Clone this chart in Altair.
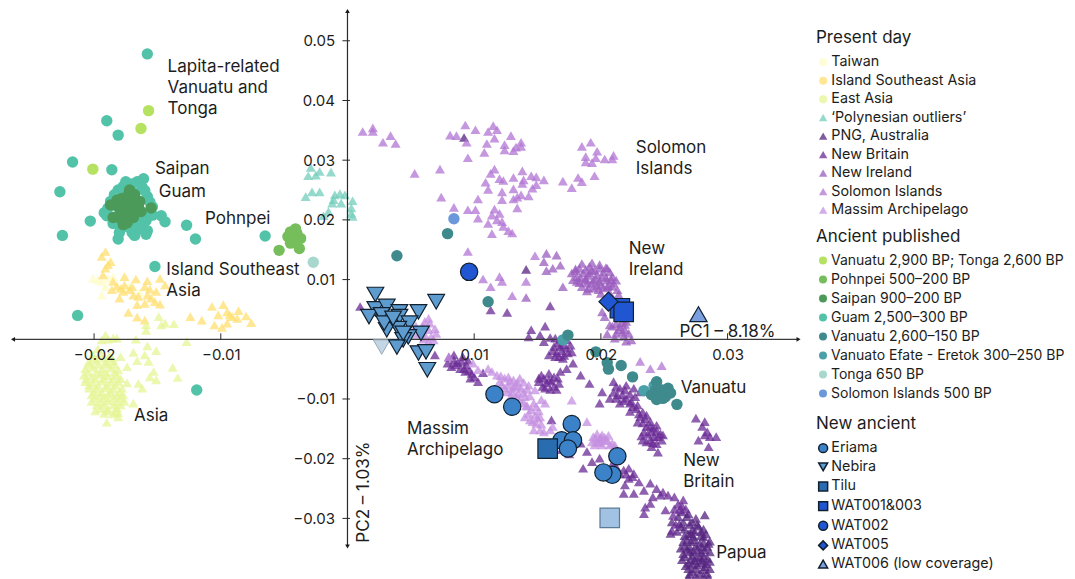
import altair as alt
import pandas as pd

FONT = "Inter"
INK = "#1d1d1b"

# All PCA coordinates are in thousandths of a PC unit: (PC1, PC2)
TAIWAN = [(-20.1,10.2),(-19.4,9.7),(-19.4,7.4),(-19.1,8.8),(-19.7,9.9),(-18.5,10.5),(-18.9,10.2),(-17.2,9.0),(-16.4,7.9)]
ISEA = [(-19.1,14.7),(-19.4,13.9),(-18.7,13.0),(-19.1,11.9),(-18.9,12.5),(-19.3,10.8),(-17.6,10.5),(-16.7,10.1),
        (-15.8,9.8),(-14.8,10.2),(-14.4,9.1),(-18.5,9.7),(-18.6,8.3),(-17.9,8.5),(-17.6,9.1),(-17.2,8.3),(-16.0,8.8),
        (-15.1,8.0),(-15.5,6.9),(-14.8,5.9),(-16.0,6.0),(-16.6,5.8),(-18.0,6.9),(-16.5,7.2),(-17.3,4.5),(-16.6,3.7),
        (-16.0,3.2),(-17.7,8.0),(-16.9,7.4),(-15.8,7.4),(-15.2,6.3),(-10.7,5.5),(-9.8,5.8),(-10.2,4.1),(-9.5,4.6),
        (-9.1,3.8),(-8.6,4.8),(-8.7,3.5),(-8.0,3.9),(-7.6,2.8),(-9.5,2.7),(-10.5,2.4),(-9.9,2.0),(-12.4,3.8),(-11.5,3.2),
        (-9.3,4.1),(-17.0,8.8),(-15.6,8.4),(-18.2,8.9)]
EAST_ASIA = [(-14.9,3.8),(-14.4,2.7),(-13.7,2.6),(-14.7,2.4),(-15.9,2.4),(-15.9,1.5),(-16.7,0.0),(-12.7,-0.4),(-19.1,0.7),
             (-18.5,0.2),(-18.9,0.0),(-19.4,-0.1),(-18.2,0.2),(-15.8,-1.1),(-15.1,-1.9),(-16.9,-2.2),(-16.0,-2.6),(-15.7,-3.7),
             (-16.6,-3.6),(-17.9,-2.9),(-17.4,-4.6),(-13.8,-4.7),(-13.4,-6.4),(-15.6,-6.3),(-15.1,-6.8),(-15.3,-5.4),
             (-17.4,-7.3),(-16.5,-7.4),(-16.2,-8.2),(-16.9,-10.7),(-19.0,-13.9),(-18.1,-13.0),
             (-20.1,-2.6),(-19.5,-2.4),(-18.8,-2.7),(-20.4,-3.7),(-19.8,-3.5),(-19.1,-3.8),(-18.5,-3.6),
             (-20.7,-4.9),(-20.1,-4.7),(-19.4,-5.0),(-18.7,-4.8),(-18.1,-5.1),(-20.8,-6.0),(-20.2,-6.2),(-19.5,-5.9),
             (-18.9,-6.1),(-18.2,-6.0),(-20.7,-7.1),(-20.1,-7.3),(-19.4,-7.0),(-18.7,-7.2),(-18.1,-7.1),(-20.4,-8.2),
             (-19.8,-8.3),(-19.1,-8.1),(-18.5,-8.3),(-17.8,-8.2),(-20.2,-9.3),(-19.5,-9.4),(-18.9,-9.2),(-18.2,-9.4),
             (-17.7,-9.3),(-20.2,-10.4),(-19.5,-10.5),(-18.9,-10.3),(-18.2,-10.5),(-17.6,-10.4),(-19.5,-11.6),
             (-18.9,-11.7),(-18.2,-11.5),(-19.2,-12.4),(-18.5,-12.5),(-18.1,-12.3),(-19.7,-1.6),(-19.9,-12.0),
             (-20.0,-3.1),(-19.2,-3.1),(-18.6,-3.1),(-20.4,-4.2),(-19.7,-4.2),(-19.0,-4.2),(-18.4,-4.2),(-20.5,-5.5),(-19.8,-5.5),
             (-19.1,-5.5),(-18.4,-5.5),(-20.6,-6.6),(-19.9,-6.6),(-19.2,-6.6),(-18.5,-6.6),(-17.9,-6.6),(-20.4,-7.7),(-19.7,-7.7),
             (-19.0,-7.7),(-18.3,-7.7),(-20.0,-8.8),(-19.4,-8.8),(-18.7,-8.8),(-18.0,-8.8),(-19.9,-9.8),(-19.2,-9.8),(-18.5,-9.8),
             (-17.9,-9.8),(-19.8,-11.0),(-19.2,-11.0),(-18.5,-11.0),(-17.9,-11.0),(-19.0,-12.0),(-18.3,-12.0)]
POLYNESIAN = [(-2.9,28.8),(-3.1,27.4),(-2.5,27.5),(-2.2,28.1),(-1.3,28.0),(-3.3,23.9),(-2.8,24.7),(-2.2,24.7),(-1.0,24.2),
              (-0.6,24.4),(-0.2,24.2),(0.4,23.2),(-1.2,22.8),(-0.5,22.8),(0.3,22.0),(0.3,21.1),(-1.5,21.4),(-1.9,20.7),
              (0.4,20.6),(-1.1,23.4)]
PNG = [(9.2,33.8),(14.1,11.7),(26.4,-28.9),(26.1,-29.7),(26.8,-29.7),(25.6,-30.6),(26.5,-30.6),(27.2,-30.6),(26.0,-32.2),
       (25.5,-32.5),(28.2,-29.4),(27.7,-31.3),(27.2,-31.9),(28.1,-33.1),(28.5,-34.2),(26.8,-33.6),(27.4,-33.6),(27.8,-34.2),
       (27.0,-34.8),(27.6,-35.3),(28.2,-35.3),(26.5,-35.9),(27.2,-36.2),(27.8,-36.5),(28.4,-36.7),(26.9,-37.5),(27.6,-37.8),
       (28.2,-38.1),(27.2,-38.9),(27.8,-39.2),(28.4,-39.2),(26.3,-35.0),(26.6,-32.9),(27.9,-32.2),(27.1,-32.6),(26.6,-34.6),
       (26.3,-31.4),(28.0,-37.0),(27.4,-37.1),(27.0,-35.6),
       (26.9,-29.2),(27.5,-30.0),(26.2,-30.9),(27.0,-31.0),(27.6,-31.0),(28.1,-31.8),(26.6,-31.8),(27.4,-32.2),(27.9,-32.9),
       (26.9,-32.6),(28.3,-32.6),(27.3,-33.0),(28.6,-33.8),(27.1,-33.9),(28.1,-34.0),(26.5,-33.9),(27.5,-34.6),(28.0,-34.8),
       (28.4,-34.7),(26.8,-35.2),(27.3,-35.5),(28.6,-35.6),(27.9,-35.7),(26.6,-36.4),(27.5,-36.6),(28.1,-36.3),(26.4,-36.9),
       (27.1,-36.9),(28.6,-37.2),(27.9,-37.4),(26.7,-37.9),(27.2,-37.7),(28.3,-37.6),(26.9,-38.4),(27.5,-38.4),(28.1,-38.6),
       (28.6,-38.4),(27.0,-39.3),(27.5,-39.6),(28.1,-39.7),(26.9,-39.9),(28.5,-39.9)]
NEW_BRITAIN = [(7.9,-4.0),(8.5,-4.3),(9.0,-3.7),(9.4,-4.3),(8.9,-4.9),(9.3,-5.4),(9.8,-5.7),(10.3,-7.1),(9.7,-6.5),(9.1,-2.9),
               (6.9,-2.6),(8.4,-3.5),(1.0,5.5),(14.5,1.6),(14.3,0.4),(15.2,0.7),(15.6,2.2),(15.5,-0.4),(16.0,5.6),(12.6,4.5),
               (11.3,4.9),(16.4,0.2),(16.8,-1.2),(16.3,-1.2),(17.3,-1.5),(17.7,-2.1),(16.7,-2.9),(15.9,-2.6),(17.3,-0.1),
               (16.5,-2.3),(17.0,-3.2),(17.8,-4.0),(17.3,-4.9),(18.4,-6.0),(19.1,-7.4),(16.8,-5.4),(16.3,-6.3),(15.3,-6.0),
               (15.9,-6.8),(15.1,-7.1),(15.6,-8.2),(16.3,-7.9),(16.7,-7.4),(15.9,-5.7),(21.0,-7.1),(21.5,-8.2),(22.0,-7.7),
               (22.6,-8.2),(23.1,-8.8),(21.7,-9.3),(20.1,-8.8),(20.7,-9.9),(19.9,-10.7),(21.5,-10.7),(22.3,-10.7),(22.3,-12.1),
               (22.8,-11.6),(23.6,-12.7),(23.1,-13.0),(23.9,-13.8),(24.4,-14.4),(23.6,-14.6),(23.4,-15.5),(24.0,-15.5),
               (24.7,-15.8),(23.9,-16.9),(24.8,-16.9),(23.6,-17.2),(24.4,-17.5),(24.5,-18.9),(27.5,-13.2),(28.2,-13.8),
               (28.0,-14.6),(28.6,-16.3),(27.7,-16.9),(28.2,-16.0),(29.1,-16.3),(28.5,-18.0),(28.4,-15.5),(16.1,-13.5),
               (17.7,-14.1),(18.4,-17.4),(18.9,-18.8),(19.3,-20.5),(18.6,-21.6),(19.9,-19.9),(21.8,-21.9),(22.2,-21.6),
               (21.5,-22.5),(22.6,-22.5),(22.2,-23.3),(23.0,-23.9),(23.9,-24.1),(21.9,-24.4),(21.8,-25.8),(22.6,-25.8),
               (24.4,-25.0),(24.7,-26.1),(25.3,-26.1),(25.8,-26.4),(24.1,-26.4),(23.5,-28.1),(23.9,-27.5),(23.4,-29.2),
               (25.1,-28.6),(26.5,-26.9),(23.3,-14.0),(22.9,-13.9),(24.2,-16.3),(21.2,-9.9),(16.9,-18.5),(17.5,-19.2),
               (21.2,-7.9),(21.9,-8.5),(22.3,-9.2),(21.0,-8.9),(22.7,-9.6),(21.3,-9.3),(22.0,-9.9),(22.9,-11.0),(22.5,-11.3),
               (23.3,-12.2),(23.5,-13.3),(23.0,-12.5),(24.1,-14.9),(23.9,-14.6),(24.4,-15.3),(23.7,-15.9),(23.2,-16.2),(24.5,-16.3),
               (24.1,-17.3),(23.3,-16.9),(24.9,-16.0),(24.0,-18.0),(22.4,-10.4),(21.8,-10.3),
               (16.6,-0.6),(17.0,-0.9),(16.9,-1.9),(17.4,-2.3),(16.2,-1.9),(16.0,0.3),(16.8,0.0),(17.6,-1.0),(17.1,-2.7),(16.4,-2.9),
               (15.5,-6.5),(15.7,-7.3),(16.1,-7.0),(16.6,-6.5),(15.4,-7.9),(16.0,-8.4),(16.5,-8.4),(15.1,-6.5),
               (8.2,-4.6),(8.7,-3.9),(9.2,-4.9),(9.6,-5.2),(8.0,-3.0),(9.5,-3.5),(10.0,-6.3),(10.7,-5.6),(8.4,-2.6),
               (26.1,-27.6),(26.4,-27.9),(25.8,-28.4),(26.7,-28.4),(26.2,-28.6),(25.7,-29.5),(25.9,-31.0),(25.6,-32.0),(24.9,-25.6),
               (22.0,-22.6),(22.5,-23.0),(23.4,-25.3),(21.2,-21.3),(20.9,-20.9)]
NEW_IRELAND = [(15.7,14.4),(16.5,14.1),(15.5,13.0),(16.2,11.9),(16.8,12.4),(15.7,11.5),(18.5,12.7),(19.1,12.2),(17.7,11.1),
               (18.1,10.5),(18.6,11.1),(19.1,11.1),(19.7,10.8),(20.2,11.3),(20.7,11.3),(20.5,9.9),(21.0,9.4),(21.3,8.3),(19.9,9.7),
               (19.4,9.9),(18.9,9.4),(18.5,8.8),(19.0,8.5),(19.8,8.3),(17.0,8.8),(20.5,8.8),(20.9,10.5),(18.8,10.2),(19.5,11.6),
               (20.1,10.5),(18.1,9.7),(20.1,4.6),(21.5,2.1),(21.9,1.6),(22.4,-0.1),(21.2,1.0),(20.7,2.4),(20.3,3.8),(22.2,1.0),
               (21.6,2.8),(20.6,9.0),(19.3,12.8),(20.4,12.0),(18.0,11.8),(19.7,9.0),(14.1,7.0),(22.0,3.0),
               (18.0,11.5),(18.3,11.9),(18.8,11.7),(19.3,11.5),(19.0,10.7),(18.4,10.3),(17.8,10.0),(18.3,9.5),(18.8,9.9),(19.3,9.4),
               (19.6,10.1),(20.0,9.2),(20.4,10.3),(20.8,10.0),(20.2,8.6),(20.9,8.9),(19.4,8.6),(20.5,11.9),(19.9,11.9),(19.9,12.5),
               (21.2,9.9),(20.7,7.8),(21.4,7.5),(20.0,7.7),(18.9,8.1),
               (20.9,2.2),(21.2,2.6),(21.7,1.2),(21.9,2.5),(21.4,1.6),(20.5,0.9),(21.8,0.5),(22.0,-0.3),(21.1,0.2)]
SOLOMON = [(1.2,34.8),(2.0,35.4),(2.0,34.8),(3.4,34.1),(2.8,33.0),(3.8,32.8),(8.1,34.2),(8.6,34.1),(9.3,35.9),(10.1,35.1),
           (9.4,33.0),(11.5,35.8),(11.1,34.8),(11.8,35.1),(11.6,33.7),(11.0,32.8),(12.9,34.1),(12.4,32.6),(12.4,31.7),(13.1,31.6),
           (13.7,32.3),(10.8,31.3),(9.5,30.4),(5.3,27.8),(7.3,28.5),(11.6,28.5),(11.3,27.8),(13.8,28.2),(13.1,27.1),(12.0,26.9),
           (12.3,26.6),(14.5,27.4),(14.9,27.2),(15.5,26.7),(13.9,26.7),(13.8,26.1),(10.9,26.3),(11.1,25.1),(13.1,25.2),(12.2,24.7),
           (14.6,25.3),(14.9,25.9),(14.3,24.0),(13.7,24.2),(13.4,23.8),(13.1,23.5),(12.2,23.4),(10.3,23.5),(7.4,23.8),(8.4,22.1),
           (9.5,21.7),(10.1,21.7),(11.6,21.8),(13.4,22.0),(10.3,20.3),(11.4,20.8),(12.0,21.1),(11.8,20.0),(12.2,19.7),(11.1,19.4),
           (12.3,18.9),(12.7,18.2),(13.0,17.8),(11.4,17.7),(18.5,32.3),(19.2,33.0),(19.7,31.5),(18.8,30.6),(19.6,30.4),(19.3,29.6),
           (20.3,30.2),(21.0,30.8),(20.9,30.2),(18.8,29.7),(17.0,26.5),(17.7,25.4),(18.2,27.1),(18.5,26.4),(19.5,27.4),(9.5,14.7),
           (10.7,10.1),(12.0,10.5),(11.3,8.8),(12.2,9.7),(13.0,7.3),(14.1,9.7),(14.8,14.0),(23.1,-3.7),(23.9,-4.9),(24.8,-4.4),
           (13.7,33.0),(13.3,32.2)]
MASSIM = [(6.0,2.1),(6.4,1.6),(6.6,0.4),(6.2,0.4),(6.5,2.7),(6.1,3.0),(6.8,-0.1),(8.0,-2.9),(9.9,-4.0),(10.3,-5.1),(11.1,-4.9),
          (11.8,-6.0),(12.4,-6.5),(13.1,-6.8),(13.6,-6.5),(14.3,-7.7),(14.8,-8.5),(12.0,-7.1),(12.7,-7.7),(13.2,-7.9),(13.7,-8.2),
          (13.0,-8.8),(13.5,-9.1),(14.0,-9.6),(14.7,-10.7),(13.6,-10.2),(12.4,-8.2),(14.9,-11.3),(14.3,-12.4),(14.8,-12.7),(14.4,-13.5),
          (14.9,-14.1),(15.6,-10.7),(15.5,-15.5),(14.7,-15.2),(16.0,-15.2),(17.7,-10.2),(18.9,-13.8),(19.4,-16.3),(19.7,-17.2),
          (20.1,-16.0),(20.5,-16.9),(20.9,-17.4),(20.1,-17.7),(19.3,-17.2),(21.1,-17.7),(19.7,-15.8),(5.8,1.2),(7.0,1.0),(12.9,-9.5),
          (14.2,-11.2),(13.4,-7.2),(15.2,-13.0),(20.3,-17.0),(19.9,-16.7),
          (11.4,-5.4),(12.1,-6.1),(12.7,-6.3),(12.2,-7.6),(12.8,-7.0),(13.4,-7.8),(13.9,-7.2),(14.2,-8.4),(13.0,-8.2),(13.9,-8.9),
          (13.3,-9.5),(12.6,-8.8),(14.4,-9.5),(13.9,-10.6),(14.1,-11.1),(14.5,-11.8),(15.1,-12.0),(15.0,-13.2),(14.6,-13.8),
          (15.3,-14.2),(14.0,-13.0),(15.3,-10.1),(15.2,-15.2),(16.2,-14.6),(19.6,-16.6),(20.0,-16.4),(20.6,-16.1),(19.9,-17.3),
          (20.7,-17.7),(20.3,-16.4),(19.5,-17.7),(5.5,0.8),(5.9,1.9),(6.0,0.0),(6.4,-0.4),(5.4,2.2),(6.9,1.8),(6.4,3.5)]
LAPITA = [(-15.7,38.3),(-16.3,35.3),(-20.1,28.5)]
POHNPEI = [(-5.4,14.9),(-3.8,15.2),(-4.1,18.5),(-4.5,18.0),(-4.7,17.2),(-3.7,16.9),(-4.3,16.6),(-4.5,16.1),(-4.0,17.8)]
SAIPAN = [(-17.2,25.0),(-17.9,22.8),(-16.4,23.1),(-17.1,23.5),(-17.5,22.1),(-16.9,21.5),(-16.5,22.3),(-15.5,22.0),(-18.5,20.4),
          (-17.7,19.2),(-17.2,20.3),(-16.3,21.4),(-17.8,23.6),(-17.3,24.2),(-18.1,22.2),(-17.0,22.8),(-17.6,21.0),
          (-16.8,24.2),(-18.2,23.3),(-17.3,21.3),(-18.0,20.9),(-17.9,20.2),(-16.9,20.4),(-17.4,19.5),(-18.7,22.5)]
GUAM = [(-15.8,47.8),(-19.0,36.6),(-18.1,34.2),(-21.7,29.7),(-18.6,28.4),(-22.7,24.7),(-20.3,19.8),(-22.5,17.4),(-18.1,16.8),
        (-12.7,19.1),(-12.0,16.8),(-6.5,17.3),(-15.2,12.2),(-21.3,4.0),(-11.9,-8.5),(-16.1,26.9),(-16.6,26.4),(-17.3,25.9),
        (-18.1,25.0),(-15.8,23.9),(-18.7,23.1),(-15.4,22.2),(-19.2,21.2),(-14.7,20.7),(-14.4,19.7),(-17.9,18.6),(-15.8,18.2),
        (-16.8,17.4),(-16.4,18.9),(-17.1,19.5),(-15.9,19.9),(-18.5,22.5),(-16.2,25.4),(-16.9,24.6),(-18.4,20.4),(-16.0,21.0),
        (-17.7,25.6),(-16.0,24.9),(-17.0,26.0),(-18.4,24.2),(-18.9,22.0),(-19.0,20.7),(-15.6,23.0),(-15.4,20.8),(-15.9,20.4),
        (-16.6,19.7),(-17.4,18.9),(-17.0,17.9),(-15.9,17.6),(-16.1,18.4),(-18.0,17.9),(-18.5,19.4),(-18.2,23.8),(-16.7,19.0),
        (-16.3,20.1),(-17.5,26.4)]
VANUATU = [(7.9,17.7),(3.9,14.0),(11.1,6.3),(17.4,0.7),(19.6,-2.1),(20.5,-3.9),(20.6,-5.0),(21.6,-4.4),(22.5,-6.3),(26.0,-10.9),
           (24.4,-7.1),(25.3,-8.2),(25.1,-9.6),(24.4,-10.1),(24.8,-8.5),(24.3,-8.6),(24.6,-9.4),(24.0,-9.3),(25.5,-9.0),(24.9,-9.9)]
EFATE = [(17.0,-0.1),(23.4,-8.6),(24.2,-7.8)]
TONGA = [(-2.7,12.9)]
SOLOMON_ANCIENT = [(8.4,20.2)]
ERIAMA = [(11.6,-9.2),(13.0,-11.3),(17.7,-14.2),(16.9,-16.9),(17.8,-16.9),(17.4,-18.3),(21.3,-19.6),(20.9,-22.7),(20.2,-22.3)]
NEBIRA = [(2.2,7.5),(2.2,5.1),(3.1,5.5),(1.7,3.8),(2.7,4.1),(4.1,4.6),(4.1,3.8),(5.6,4.6),(7.0,6.3),(4.9,2.7),(3.1,1.6),(4.0,1.8),
          (5.8,1.0),(4.8,0.4),(4.4,-0.1),(3.9,-1.3),(5.6,-2.3),(6.2,-2.1),(6.3,-5.1),(2.9,2.7),(4.4,1.0),(3.6,3.5)]
NEBIRA_LOW = [(2.7,-1.3)]
TILU = [(15.8,-18.3)]
TILU_LOW = [(20.7,-29.9)]
WAT001 = [(21.5,5.2),(21.8,4.6)]
WAT002 = [(9.6,11.3)]
WAT005 = [(20.6,6.3)]
WAT006 = [(27.7,4.2)]

PRESENT_A = ["Taiwan", "Island Southeast Asia", "East Asia"]
PRESENT_A_COL = ["#FEFCC8", "#FFDF70", "#E6F596"]
PRESENT_B = ["\u2018Polynesian outliers\u2019", "PNG, Australia", "New Britain", "New Ireland", "Solomon Islands", "Massim Archipelago"]
PRESENT_B_COL = ["#72CDBB", "#54237F", "#6A2A96", "#9A5CBE", "#B274D4", "#C48FE0"]
ANCIENT = ["Vanuatu 2,900 BP; Tonga 2,600 BP", "Pohnpei 500\u2013200 BP", "Saipan 900\u2013200 BP", "Guam 2,500\u2013300 BP",
           "Vanuatu 2,600\u2013150 BP", "Vanuato Efate - Eretok 300\u2013250 BP", "Tonga 650 BP", "Solomon Islands 500 BP"]
ANCIENT_COL = ["#B5E261", "#76BE5C", "#4C9A5A", "#52C2A8", "#3F8A8C", "#4AA0A8", "#A8D7CE", "#6B98DB"]
NEW = ["Eriama", "Nebira", "Tilu", "WAT001&003", "WAT002", "WAT005", "WAT006 (low coverage)"]
NEW_COL = ["#3C82C8", "#5E9BCF", "#2A6CB0", "#2156D2", "#2156D2", "#2156D2", "#7C9FDF"]
NEW_SHAPE = ["circle", "triangle-down", "square", "square", "circle", "diamond", "triangle-up"]
NEW_SIZE = [300, 280, 380, 380, 300, 360, 300]

X_TICKS = [-20, -10, 10, 20, 30]
Y_TICKS = [-30, -20, -10, 10, 20, 30, 40, 50]
X_LINE = (-26.4, 35.6)
Y_LINE = (-34.7, 55.0)
X_TICK_RISE = 1.0
Y_TICK_REACH = (-0.4, 0.2)

LABELS = [("Lapita-related", -14.2, 45.8), ("Vanuatu and", -14.2, 42.3), ("Tonga", -14.2, 38.8),
          ("Saipan", -15.2, 28.7), ("Guam", -14.9, 24.9), ("Pohnpei", -11.25, 20.4),
          ("Island Southeast", -14.3, 11.8), ("Asia", -14.3, 8.3), ("Asia", -16.85, -12.7),
          ("Solomon", 22.75, 32.2), ("Islands", 22.75, 28.7), ("New", 22.2, 15.3), ("Ireland", 22.2, 11.8),
          ("PC1 \u2013 8.18%", 26.2, 1.4), ("Vanuatu", 26.3, -8.0),
          ("Massim", 4.7, -14.8), ("Archipelago", 4.7, -18.3), ("New", 26.5, -20.2), ("Britain", 26.5, -23.7),
          ("Papua", 29.1, -35.6)]
PC2_LABEL = [("PC2 \u2013 1.03%", 1.3, -25.6)]

W, H = 1059, 571
X_DOM = [-26.795, 56.79]
Y_DOM = [-40.15, 55.49]


def frame(groups):
    rows = []
    for name, pts in groups:
        rows += [{"s": name, "x": a / 1000, "y": b / 1000} for a, b in pts]
    return pd.DataFrame(rows)


xs = alt.Scale(domain=[d / 1000 for d in X_DOM], nice=False, zero=False)
ys = alt.Scale(domain=[d / 1000 for d in Y_DOM], nice=False, zero=False)
X = alt.X("x:Q", scale=xs, title=None,
          axis=alt.Axis(values=[v / 1000 for v in X_TICKS], format=".2f", domain=False, ticks=False, grid=False,
                        offset=-240, labelPadding=8, labelFont=FONT, labelFontSize=15, labelColor=INK, zindex=1))
Y = alt.Y("y:Q", scale=ys, title=None,
          axis=alt.Axis(values=[v / 1000 for v in Y_TICKS], format=".2f", domain=False, ticks=False, grid=False,
                        offset=-339.5, labelPadding=13, labelFont=FONT, labelFontSize=15, labelColor=INK, zindex=1))


def legend(y, size=64, row=3.5, font=14.3, **kw):
    return alt.Legend(orient="none", legendX=808, legendY=y, titleFont=FONT, titleFontSize=17, titleFontWeight="normal",
                      titleColor=INK, labelFont=FONT, labelFontSize=font, labelColor=INK, symbolSize=size,
                      labelLimit=300, rowPadding=row, labelOffset=1, titlePadding=8, **kw)


df_a = frame([(PRESENT_A[0], TAIWAN), (PRESENT_A[1], ISEA), (PRESENT_A[2], EAST_ASIA)])
df_b = frame([(PRESENT_B[0], POLYNESIAN), (PRESENT_B[1], PNG), (PRESENT_B[2], NEW_BRITAIN), (PRESENT_B[3], NEW_IRELAND),
              (PRESENT_B[4], SOLOMON), (PRESENT_B[5], MASSIM)])
df_c = frame([(ANCIENT[0], LAPITA), (ANCIENT[1], POHNPEI), (ANCIENT[3], GUAM), (ANCIENT[2], SAIPAN), (ANCIENT[5], EFATE),
              (ANCIENT[4], VANUATU), (ANCIENT[6], TONGA), (ANCIENT[7], SOLOMON_ANCIENT)])
df_d = frame([(NEW[0], ERIAMA), (NEW[1], NEBIRA), (NEW[2], TILU), (NEW[3], WAT001), (NEW[4], WAT002), (NEW[5], WAT005), (NEW[6], WAT006)])
df_d["size"] = df_d["s"].map(dict(zip(NEW, NEW_SIZE)))

layer_a = alt.Chart(df_a).mark_point(filled=True, shape="triangle-up", size=100, opacity=0.75).encode(
    x=X, y=Y,
    color=alt.Color("s:N", title="Present day",
                    scale=alt.Scale(domain=PRESENT_A, range=PRESENT_A_COL),
                    legend=legend(22, symbolType="circle")))
layer_b = alt.Chart(df_b).mark_point(filled=True, shape="triangle-up", size=100, opacity=0.75).encode(
    x=X, y=Y,
    color=alt.Color("s:N", title=None,
                    scale=alt.Scale(domain=PRESENT_B, range=PRESENT_B_COL),
                    legend=legend(102.5, symbolType="triangle-up", size=70)))

axis_df = pd.DataFrame({"x": [X_LINE[0] / 1000], "x2": [X_LINE[1] / 1000], "y": [0.0], "y2": [0.0]})
yaxis_df = pd.DataFrame({"y": [Y_LINE[0] / 1000], "y2": [Y_LINE[1] / 1000], "x": [0.0]})
line_x = alt.Chart(axis_df).mark_rule(color="#3a3a3a", strokeWidth=1.2).encode(x=X, x2="x2:Q", y=Y)
line_y = alt.Chart(yaxis_df).mark_rule(color="#2a2a2a", strokeWidth=1.2).encode(x=X, y=Y, y2="y2:Q")
xt_df = pd.DataFrame({"x": [v / 1000 for v in X_TICKS], "y": 0.0, "y2": X_TICK_RISE / 1000})
yt_df = pd.DataFrame({"y": [v / 1000 for v in Y_TICKS], "x": Y_TICK_REACH[0] / 1000, "x2": Y_TICK_REACH[1] / 1000})
ticks_x = alt.Chart(xt_df).mark_rule(color="#2a2a2a", strokeWidth=1).encode(x=X, y=Y, y2="y2:Q")
ticks_y = alt.Chart(yt_df).mark_rule(color="#2a2a2a", strokeWidth=1).encode(x=X, x2="x2:Q", y=Y)
arrows_df = pd.DataFrame({"x": [X_LINE[0] / 1000, X_LINE[1] / 1000, 0.0, 0.0], "y": [0.0, 0.0, Y_LINE[1] / 1000, Y_LINE[0] / 1000],
                          "a": ["triangle-left", "triangle-right", "triangle-up", "triangle-down"]})
arrows = alt.Chart(arrows_df).mark_point(filled=True, size=22, color="#1a1a1a", opacity=1).encode(
    x=X, y=Y, shape=alt.Shape("a:N", scale=None, legend=None))

layer_c = alt.Chart(df_c).mark_point(filled=True, shape="circle", size=130, opacity=1).encode(
    x=X, y=Y,
    color=alt.Color("s:N", title="Ancient published",
                    scale=alt.Scale(domain=ANCIENT, range=ANCIENT_COL),
                    legend=legend(220.5, symbolType="circle", size=64, row=5.0, font=14)))

low_n = alt.Chart(frame([("n", NEBIRA_LOW)])).mark_point(filled=True, shape="triangle-down", size=280, color="#C2D6E6",
                                                         stroke="#9aa8b2", strokeWidth=1, opacity=1).encode(x=X, y=Y)
low_t = alt.Chart(frame([("t", TILU_LOW)])).mark_point(filled=True, shape="square", size=380, color="#A2C2E4",
                                                       stroke="#5d7a94", strokeWidth=1.2, opacity=1).encode(x=X, y=Y)
layer_d = alt.Chart(df_d).mark_point(filled=True, stroke="#10202f", strokeWidth=1.2, opacity=1).encode(
    x=X, y=Y,
    size=alt.Size("size:Q", scale=None, legend=None),
    color=alt.Color("s:N", title="New ancient",
                    scale=alt.Scale(domain=NEW, range=NEW_COL), legend=legend(408, size=80, row=3.65)),
    shape=alt.Shape("s:N", title="New ancient",
                    scale=alt.Scale(domain=NEW, range=NEW_SHAPE), legend=legend(408, size=80, row=3.65)))

labels = alt.Chart(pd.DataFrame([{"t": t, "x": a / 1000, "y": b / 1000} for t, a, b in LABELS])).mark_text(
    font=FONT, fontSize=17, color=INK, align="left", baseline="middle", dy=1.3).encode(x=X, y=Y, text="t:N")
pc2 = alt.Chart(pd.DataFrame([{"t": t, "x": a / 1000, "y": b / 1000} for t, a, b in PC2_LABEL])).mark_text(
    font=FONT, fontSize=17, color=INK, angle=270, align="center", baseline="middle").encode(x=X, y=Y, text="t:N")

chart = alt.layer(layer_a, layer_b, line_x, line_y, ticks_x, ticks_y, arrows, layer_c, low_n, low_t, layer_d, labels, pc2
                  ).resolve_scale(color="independent", shape="independent").properties(
    width=W, height=H, padding=0, autosize=alt.AutoSizeParams(type="none")
).configure_view(stroke=None).configure_legend(padding=0)

chart.save("out.html", embed_options={"renderer": "svg", "actions": False})
